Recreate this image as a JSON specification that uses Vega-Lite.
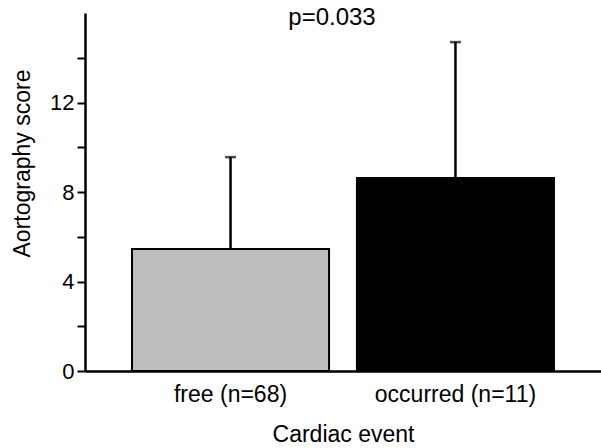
{
  "$schema": "https://vega.github.io/schema/vega-lite/v6.json",
  "autosize": "none",
  "padding": {"left": 85, "top": 13, "right": 0, "bottom": 77},
  "width": 516,
  "height": 358,
  "background": "white",
  "config": {"view": {"stroke": null}, "font": "Liberation Sans"},
  "title": {"text": "p=0.033", "orient": "top", "anchor": "middle", "baseline": "alphabetic", "offset": -13, "dx": -11, "dy": 23, "fontSize": 24, "fontWeight": "normal", "color": "black", "font": "Liberation Sans"},
  "data": {"values": [
    {"event": "free (n=68)", "score": 5.45, "upper": 9.56},
    {"event": "occurred (n=11)", "score": 8.63, "upper": 14.7}
  ]},
  "encoding": {
    "x": {"field": "event", "type": "nominal", "sort": null,
      "scale": {"paddingInner": 0.124, "paddingOuter": 0.209},
      "axis": {"title": "Cardiac event", "labelAngle": 0, "labelFontSize": 23, "titleFontSize": 23, "titleFontWeight": "normal", "labelColor": "black", "titleColor": "black", "domainColor": "black", "domainWidth": 2.5, "ticks": false, "labelPadding": 12, "titlePadding": 17}},
    "color": {"field": "event", "type": "nominal", "scale": {"range": ["#bdbdbd", "#000000"]}, "legend": null}
  },
  "layer": [
    {"mark": {"type": "bar", "stroke": "black", "strokeWidth": 2},
      "encoding": {
        "y": {"field": "score", "type": "quantitative",
          "scale": {"domain": [0, 16], "nice": false},
          "axis": {"title": "Aortography score", "values": [0, 2, 4, 6, 8, 10, 12, 14], "labelExpr": "datum.value % 4 == 0 ? datum.label : ''", "grid": false, "labelFontSize": 22, "titleFontSize": 23, "titleFontWeight": "normal", "labelColor": "black", "titleColor": "black", "domainColor": "black", "domainWidth": 2.5, "tickColor": "black", "tickWidth": 2, "tickSize": 8, "labelPadding": 3, "titlePadding": 15, "titleY": 150}}
      }},
    {"mark": {"type": "rule", "color": "black", "strokeWidth": 2.5},
      "encoding": {"y": {"field": "score", "type": "quantitative"}, "y2": {"field": "upper"}, "color": {"value": "black"}}},
    {"mark": {"type": "tick", "color": "black", "thickness": 2.5, "size": 11},
      "encoding": {"y": {"field": "upper", "type": "quantitative"}, "color": {"value": "black"}}}
  ]
}
